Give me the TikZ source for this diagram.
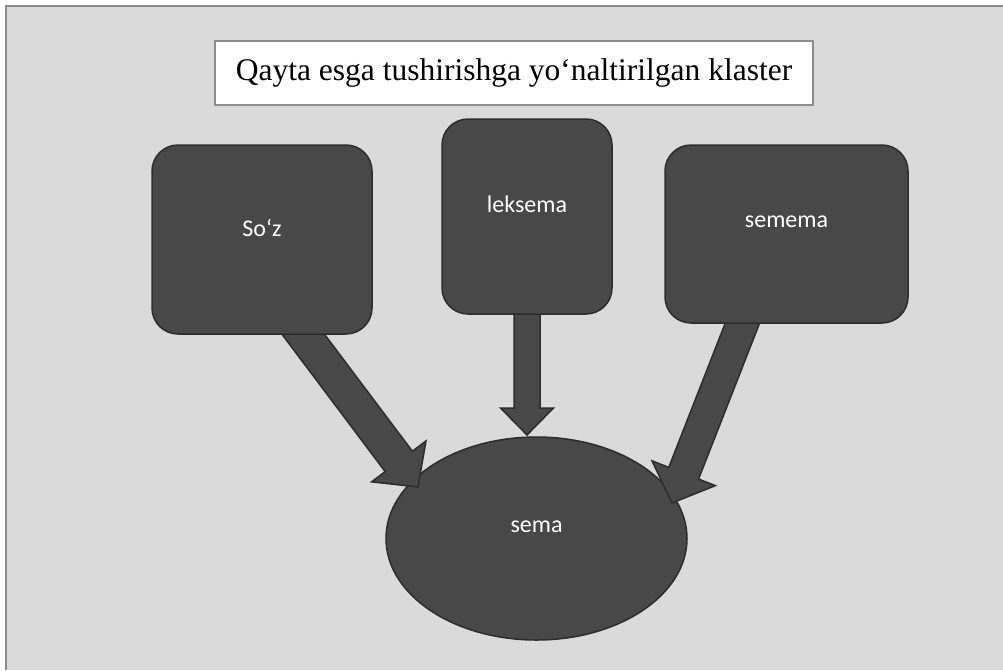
\documentclass[tikz,border=0pt]{standalone}
\usepackage{fontspec}
\setmainfont{Liberation Serif}
\newfontfamily\boxfont{Carlito}
\usetikzlibrary{shapes.geometric,calc}
\pgfdeclarelayer{low}
\pgfdeclarelayer{mid}
\pgfsetlayers{low,mid,main}
\definecolor{bgray}{RGB}{218,218,218}
\definecolor{boxfill}{RGB}{72,72,72}
\definecolor{boxline}{RGB}{45,45,45}
\definecolor{framec}{RGB}{140,140,140}
\tikzset{
  darkbox/.style={draw=boxline, fill=boxfill, line width=1.5pt, rounded corners=26pt, inner sep=0pt},
  darkell/.style={ellipse, draw=boxline, fill=boxfill, line width=1.5pt, inner sep=0pt},
  boxtext/.style={font=\boxfont\fontsize{24}{28}\selectfont, text=white, yshift=12pt},
  blockarrowstyle/.style={draw=boxline, fill=boxfill, line width=1.5pt, line join=miter},
  titlebox/.style={draw=framec, fill=white, line width=2pt, inner sep=0pt, font=\fontsize{31.5}{36}\selectfont},
  framestyle/.style={draw=framec, line width=2pt}
}
% #1 start, #2 tip, #3 shaft half width, #4 head half width, #5 head length
\newcommand\blockarrow[5]{%
  \coordinate (ba-n) at ($(#2)!#5!(#1)$);
  \path[blockarrowstyle]
    ($(#1)!#3!90:(#2)$) -- ($(ba-n)!#3!90:(#2)$) -- ($(ba-n)!#4!90:(#2)$)
    -- (#2) -- ($(ba-n)!#4!-90:(#2)$) -- ($(ba-n)!#3!-90:(#2)$)
    -- ($(#1)!#3!-90:(#2)$) -- cycle;
}
\begin{document}
\begin{tikzpicture}[x=1pt,y=-1pt]
\useasboundingbox (0,0) rectangle (1003,670);
\begin{pgfonlayer}{low}
  \fill[bgray] (6,6) rectangle (1003,670);
  \draw[framestyle] (6,670) -- (6,6) -- (1003,6);
  \node[darkell, minimum width=301pt, minimum height=203pt,
        label={[boxtext]center:sema}] (sema) at (536.5,538.5) {};
\end{pgfonlayer}

\node[titlebox, minimum width=598pt, minimum height=64pt] (title) at (514,73)
  {Qayta esga tushirishga yo‘naltirilgan klaster};

\node[darkbox, minimum width=220pt, minimum height=189pt,
      label={[boxtext]center:So‘z}] (soz) at (262,239.5) {};
\node[darkbox, minimum width=170pt, minimum height=195pt,
      label={[boxtext]center:leksema}] (leksema) at (527,216.5) {};
\node[darkbox, minimum width=243pt, minimum height=178pt,
      label={[boxtext]center:semema}] (semema) at (786.5,234) {};

\coordinate (a1s) at (285,310);
\coordinate (a1t) at (418,487);
\coordinate (a2s) at (527,300);
\coordinate (a2t) at (527,435);
\coordinate (a3s) at (751.5,300);
\coordinate (a3t) at (672,503);

\begin{pgfonlayer}{mid}
  \blockarrow{a1s}{a1t}{17pt}{34pt}{32pt}
  \blockarrow{a2s}{a2t}{13pt}{26.5pt}{27pt}
  \blockarrow{a3s}{a3t}{16pt}{34pt}{32pt}
\end{pgfonlayer}
\end{tikzpicture}
\end{document}
